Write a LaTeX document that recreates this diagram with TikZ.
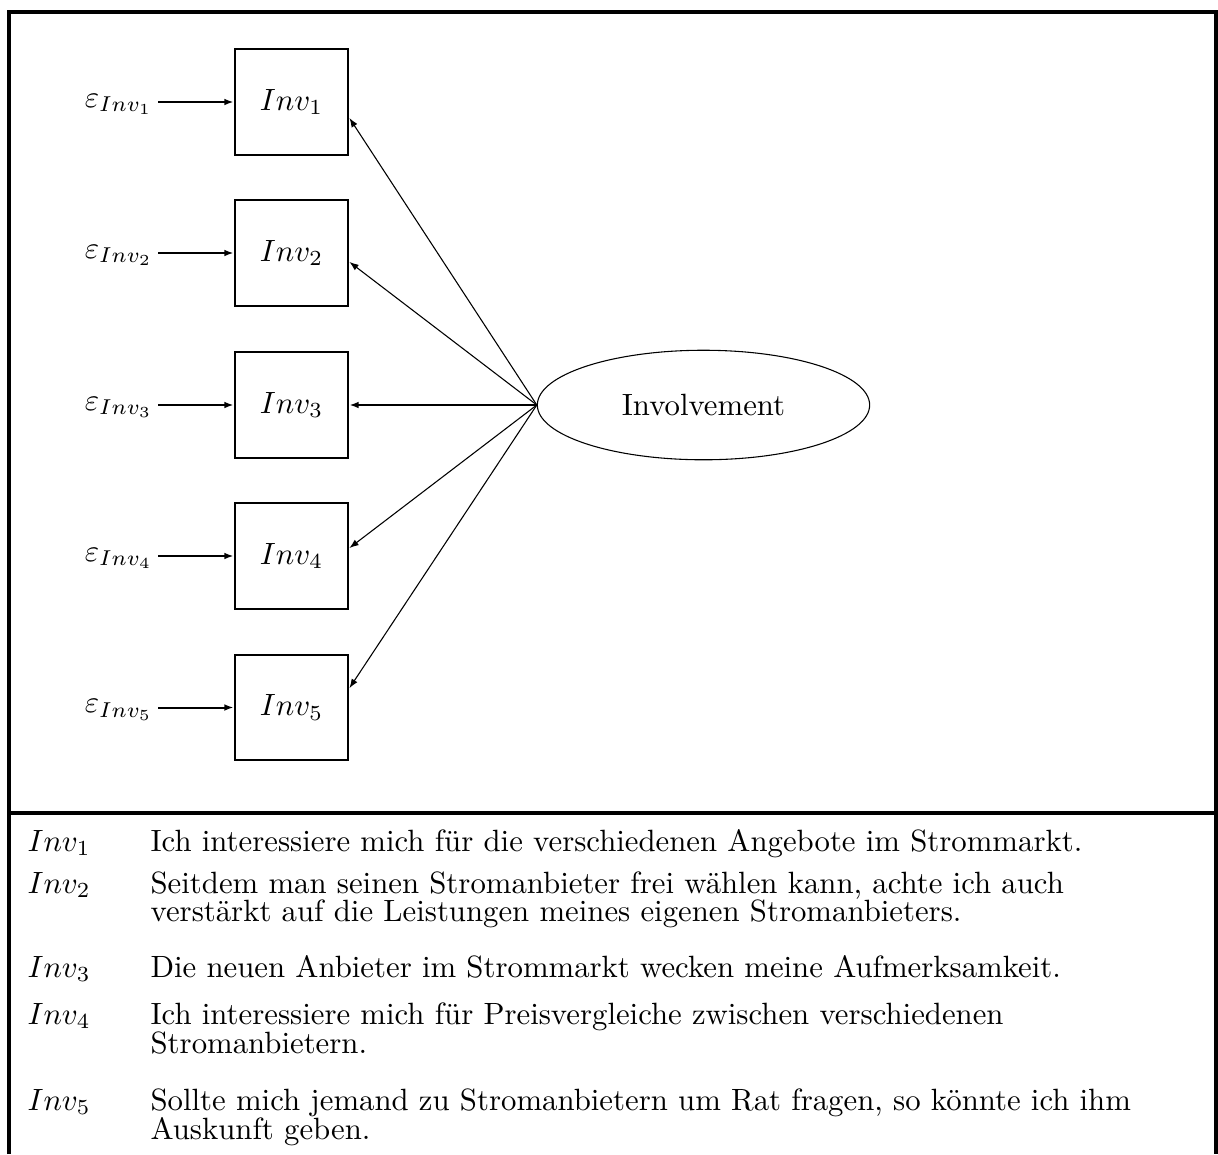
\documentclass[tikz,border=0pt]{standalone}
\usetikzlibrary{arrows.meta,shapes.geometric}
\begin{document}
\begin{tikzpicture}[x=0.325pt,y=-0.325pt,
  frame/.style={line width=1pt,line join=miter},
  itembox/.style={draw,line width=0.65pt,minimum width=37pt,minimum height=34.3pt,inner sep=0pt},
  errlabel/.style={inner xsep=1.5pt,inner ysep=0pt,anchor=base east},
  errarrow/.style={line width=0.65pt,-{Latex[length=3pt,width=2.2pt]}},
  loadarrow/.style={line width=0.35pt,-{Latex[length=3pt,width=2.2pt]}},
  latent/.style={draw,ellipse,line width=0.35pt,minimum width=108pt,minimum height=35.6pt,inner sep=0pt},
  rowtext/.style={anchor=base west,inner sep=0pt},
]
\useasboundingbox (0,0) rectangle (1218,1154);

% outer frame and separator of the item table
\draw[frame] (9,1154) -- (9,12) -- (1216,12) -- (1216,1154);
\draw[frame] (9,813) -- (1216,813);

% indicator boxes
\node[itembox] (inv1) at (291.5,102) {$Inv_1$};
\node[itembox] (inv2) at (291.5,253) {$Inv_2$};
\node[itembox] (inv3) at (291.5,405) {$Inv_3$};
\node[itembox] (inv4) at (291.5,556) {$Inv_4$};
\node[itembox] (inv5) at (291.5,707.5) {$Inv_5$};

% error terms
\node[errlabel] (e1) at (158,107) {$\varepsilon_{Inv_1}$};
\node[errlabel] (e2) at (158,258) {$\varepsilon_{Inv_2}$};
\node[errlabel] (e3) at (158,410) {$\varepsilon_{Inv_3}$};
\node[errlabel] (e4) at (158,561) {$\varepsilon_{Inv_4}$};
\node[errlabel] (e5) at (158,712.5) {$\varepsilon_{Inv_5}$};

\foreach \i in {1,...,5}
  \draw[errarrow] (e\i.east |- inv\i.west) -- (inv\i.west);

% latent construct
\node[latent] (lat) at (703.5,405) {Involvement};

% loadings
\coordinate (t1) at ([yshift=-5.2pt]inv1.east);
\coordinate (t2) at ([yshift=-2.9pt]inv2.east);
\coordinate (t4) at ([yshift=2.6pt]inv4.east);
\coordinate (t5) at ([yshift=6.3pt]inv5.east);
\draw[loadarrow] (lat.west) -- (t1);
\draw[loadarrow] (lat.west) -- (t2);
\draw[errarrow] (lat.west) -- (inv3.east);
\draw[loadarrow] (lat.west) -- (t4);
\draw[loadarrow] (lat.west) -- (t5);

% item wording
\node[rowtext] (l1) at (27,851) {$Inv_1$};
\node[rowtext] (r1) at (150,851) {Ich interessiere mich für die verschiedenen Angebote im Strommarkt.};
\node[rowtext] (l2) at (27,893) {$Inv_2$};
\node[rowtext] (r2a) at (150,893) {Seitdem man seinen Stromanbieter frei wählen kann, achte ich auch};
\node[rowtext] (r2b) at (150,921) {verstärkt auf die Leistungen meines eigenen Stromanbieters.};
\node[rowtext] (l3) at (27,977) {$Inv_3$};
\node[rowtext] (r3) at (150,977) {Die neuen Anbieter im Strommarkt wecken meine Aufmerksamkeit.};
\node[rowtext] (l4) at (27,1024) {$Inv_4$};
\node[rowtext] (r4a) at (150,1024) {Ich interessiere mich für Preisvergleiche zwischen verschiedenen};
\node[rowtext] (r4b) at (150,1053) {Stromanbietern.};
\node[rowtext] (l5) at (27,1110) {$Inv_5$};
\node[rowtext] (r5a) at (150,1110) {Sollte mich jemand zu Stromanbietern um Rat fragen, so könnte ich ihm};
\node[rowtext] (r5b) at (150,1139) {Auskunft geben.};
\end{tikzpicture}
\end{document}
